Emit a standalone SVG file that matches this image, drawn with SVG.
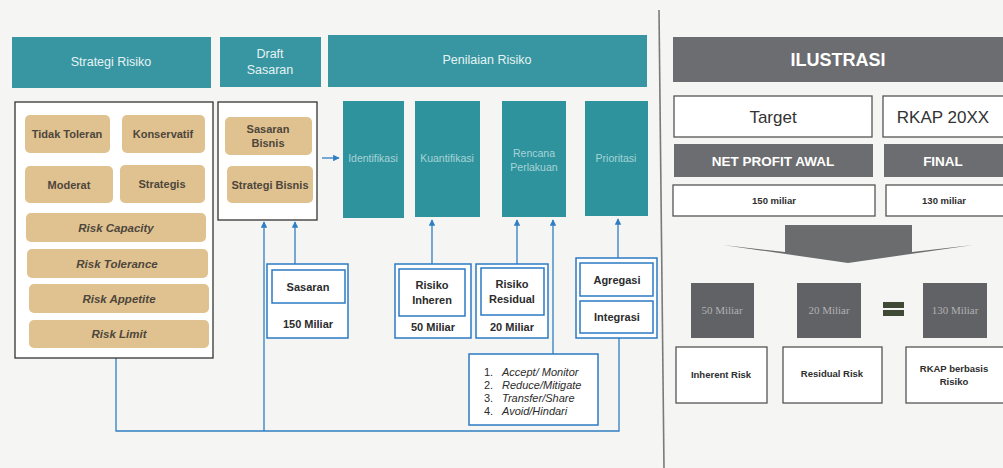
<svg xmlns="http://www.w3.org/2000/svg" width="1003" height="468" viewBox="0 0 1003 468">
<defs>
<style>
text{font-family:"Liberation Sans",Arial,sans-serif;text-anchor:middle}
.hdr{fill:#3796a1}
.hdrt{fill:#e6f3f4;font-size:12.5px}
.tan{fill:#dfc28f}
.tant{fill:#4e463c;font-size:11px;font-weight:bold}
.tani{fill:#4e463c;font-size:11.5px;font-weight:bold;font-style:italic}
.col{fill:#2f939d}
.colt{fill:#a6d4d8;font-size:10.5px}
.blk{fill:#ffffff;stroke:#333;stroke-width:1.3}
.bo{fill:#ffffff;stroke:#2b7bc4;stroke-width:1.5}
.bt{fill:#2c2c2c;font-size:11px;font-weight:bold}
.ln{fill:none;stroke:#2f7fc2;stroke-width:1.3}
.g{fill:#6c6d70}
.gw{fill:#ffffff;font-weight:bold}
.wb{fill:#ffffff;stroke:#555;stroke-width:1.3}
.dg{fill:#616265}
.dgt{fill:#b0b1b4;font-size:11px;font-family:"Liberation Serif",serif}
.rt{fill:#2e2e2e;font-size:9.5px;font-weight:bold}
.li{fill:#2c2c2c;font-size:11px;font-style:italic;text-anchor:start}
.ln2{fill:#2c2c2c;font-size:11px;text-anchor:start}
</style>
<marker id="ah" viewBox="0 0 10 10" refX="9" refY="5" markerWidth="5" markerHeight="5" orient="auto-start-reverse">
<path d="M0,0 L10,5 L0,10 z" fill="#2f7fc2"/>
</marker>
</defs>
<rect width="1003" height="468" fill="#f5f5f3"/>

<g id="connectors">
<polyline class="ln" points="116,358 116,431 619,431 619,338"/>
<line class="ln" x1="264" y1="431" x2="264" y2="222" marker-end="url(#ah)"/>
<line class="ln" x1="295" y1="264" x2="295" y2="222" marker-end="url(#ah)"/>
<line class="ln" x1="432" y1="264" x2="432" y2="220" marker-end="url(#ah)"/>
<line class="ln" x1="517" y1="264" x2="517" y2="220" marker-end="url(#ah)"/>
<line class="ln" x1="553" y1="354" x2="553" y2="220" marker-end="url(#ah)"/>
<line class="ln" x1="618" y1="258" x2="618" y2="219" marker-end="url(#ah)"/>
<line class="ln" x1="322" y1="158" x2="339" y2="158" stroke-width="2" marker-end="url(#ah)"/>
</g>

<line x1="659" y1="10" x2="664" y2="468" stroke="#7a7a7a" stroke-width="1.6"/>

<g id="strategi-risiko">
<rect class="hdr" x="12" y="37" width="199" height="51"/>
<text class="hdrt" x="111" y="66">Strategi Risiko</text>
<rect class="blk" x="15" y="102" width="198" height="256"/>
<rect class="tan" x="25" y="115" width="85" height="38" rx="5"/>
<text class="tant" x="67" y="138">Tidak Toleran</text>
<rect class="tan" x="122" y="115" width="83" height="38" rx="5"/>
<text class="tant" x="163" y="138">Konservatif</text>
<rect class="tan" x="25" y="166" width="88" height="37" rx="5"/>
<text class="tant" x="69" y="189">Moderat</text>
<rect class="tan" x="120" y="165" width="85" height="38" rx="5"/>
<text class="tant" x="162" y="188">Strategis</text>
<rect class="tan" x="26" y="213" width="180" height="29" rx="5"/>
<text class="tani" x="116" y="232">Risk Capacity</text>
<rect class="tan" x="27" y="249" width="181" height="29" rx="5"/>
<text class="tani" x="117" y="268">Risk Tolerance</text>
<rect class="tan" x="29" y="284" width="180" height="29" rx="5"/>
<text class="tani" x="119" y="303">Risk Appetite</text>
<rect class="tan" x="29" y="320" width="180" height="28" rx="5"/>
<text class="tani" x="119" y="338">Risk Limit</text>
</g>

<g id="draft-sasaran">
<rect class="hdr" x="220" y="37" width="101" height="50"/>
<text class="hdrt" x="270" y="58">Draft</text>
<text class="hdrt" x="270" y="74">Sasaran</text>
<rect class="blk" x="218" y="102" width="99" height="118"/>
<rect class="tan" x="225" y="117" width="87" height="38" rx="5"/>
<text class="tant" x="268" y="133">Sasaran</text>
<text class="tant" x="268" y="147">Bisnis</text>
<rect class="tan" x="227" y="166" width="86" height="37" rx="5"/>
<text class="tant" x="270" y="189">Strategi Bisnis</text>
</g>

<g id="penilaian-risiko">
<rect class="hdr" x="328" y="35" width="319" height="52"/>
<text class="hdrt" x="487" y="64">Penilaian Risiko</text>
</g>
<g id="identifikasi">
<rect class="col" x="343" y="101" width="61" height="117"/>
<text class="colt" x="373" y="162">Identifikasi</text>
</g>
<g id="kuantifikasi">
<rect class="col" x="415" y="101" width="65" height="116"/>
<text class="colt" x="447" y="162">Kuantifikasi</text>
</g>
<g id="rencana-perlakuan">
<rect class="col" x="502" y="101" width="64" height="116"/>
<text class="colt" x="534" y="157">Rencana</text>
<text class="colt" x="534" y="171">Perlakuan</text>
</g>
<g id="prioritasi">
<rect class="col" x="585" y="101" width="63" height="115"/>
<text class="colt" x="616" y="162">Prioritasi</text>
</g>

<g id="sasaran">
<rect class="bo" x="267" y="264" width="81" height="74"/>
<rect class="bo" x="272" y="270" width="73" height="33"/>
<text class="bt" x="308" y="291">Sasaran</text>
<text class="bt" x="308" y="328">150 Miliar</text>
</g>

<g id="risiko-inheren">
<rect class="bo" x="395" y="264" width="76" height="74"/>
<rect class="bo" x="399" y="269" width="66" height="47"/>
<text class="bt" x="432" y="289">Risiko</text>
<text class="bt" x="432" y="304">Inheren</text>
<text class="bt" x="433" y="331">50 Miliar</text>
</g>

<g id="risiko-residual">
<rect class="bo" x="476" y="264" width="72" height="74"/>
<rect class="bo" x="481" y="268" width="63" height="47"/>
<text class="bt" x="512" y="288">Risiko</text>
<text class="bt" x="512" y="303">Residual</text>
<text class="bt" x="512" y="331">20 Miliar</text>
</g>

<g id="agregasi-integrasi">
<rect class="bo" x="576" y="258" width="81" height="80"/>
<rect class="bo" x="580" y="263" width="73" height="33"/>
<text class="bt" x="617" y="284">Agregasi</text>
<rect class="bo" x="580" y="301" width="73" height="32"/>
<text class="bt" x="617" y="321">Integrasi</text>
</g>

<g id="perlakuan-list">
<rect class="bo" x="469" y="354" width="129" height="71"/>
<text class="ln2" x="484" y="376">1.</text>
<text class="li" x="502" y="376">Accept/ Monitor</text>
<text class="ln2" x="484" y="389">2.</text>
<text class="li" x="502" y="389">Reduce/Mitigate</text>
<text class="ln2" x="484" y="402">3.</text>
<text class="li" x="502" y="402">Transfer/Share</text>
<text class="ln2" x="484" y="415">4.</text>
<text class="li" x="502" y="415">Avoid/Hindari</text>
</g>

<g id="ilustrasi">
<rect class="g" x="673" y="37" width="330" height="45"/>
<text class="gw" x="838" y="66" font-size="18">ILUSTRASI</text>
</g>
<g id="target">
<rect class="wb" x="674" y="96" width="198" height="41"/>
<text x="773" y="123" font-size="17" fill="#333">Target</text>
</g>
<g id="rkap">
<rect class="wb" x="883" y="96" width="125" height="41"/>
<text x="943" y="123" font-size="17" fill="#333">RKAP 20XX</text>
</g>
<g id="net-profit-awal">
<rect class="g" x="674" y="144" width="199" height="33"/>
<text class="gw" x="773" y="166" font-size="13.5">NET PROFIT AWAL</text>
</g>
<g id="final">
<rect class="g" x="884" y="144" width="119" height="33"/>
<text class="gw" x="943" y="166" font-size="13.5">FINAL</text>
</g>
<g id="np-150">
<rect class="wb" x="673" y="185" width="202" height="31"/>
<text class="rt" x="774" y="204" font-size="10.5">150 miliar</text>
</g>
<g id="final-130">
<rect class="wb" x="886" y="185" width="122" height="31"/>
<text class="rt" x="944" y="204" font-size="10.5">130 miliar</text>
</g>

<g id="big-arrow">
<polygon points="785,225 912,225 912,252 973,245 848,263 723,245 785,252" fill="#6b6c6e"/>
</g>

<g id="m50">
<rect class="dg" x="691" y="283" width="63" height="55"/>
<text class="dgt" x="722" y="314">50 Miliar</text>
</g>
<g id="m20">
<rect class="dg" x="797" y="283" width="64" height="55"/>
<text class="dgt" x="829" y="314">20 Miliar</text>
</g>
<g id="equals">
<rect x="883" y="302" width="21" height="6" fill="#3f4a35"/>
<rect x="883" y="310" width="21" height="6" fill="#3f4a35"/>
</g>
<g id="m130">
<rect class="dg" x="923" y="283" width="64" height="55"/>
<text class="dgt" x="955" y="314">130 Miliar</text>
</g>
<g id="inherent-risk">
<rect class="wb" x="676" y="347" width="91" height="56"/>
<text class="rt" x="721" y="378">Inherent Risk</text>
</g>
<g id="residual-risk">
<rect class="wb" x="783" y="347" width="99" height="56"/>
<text class="rt" x="832" y="377">Residual Risk</text>
</g>
<g id="rkap-berbasis">
<rect class="wb" x="906" y="347" width="102" height="56"/>
<text class="rt" x="954" y="372">RKAP berbasis</text>
<text class="rt" x="954" y="385">Risiko</text>
</g>
</svg>
